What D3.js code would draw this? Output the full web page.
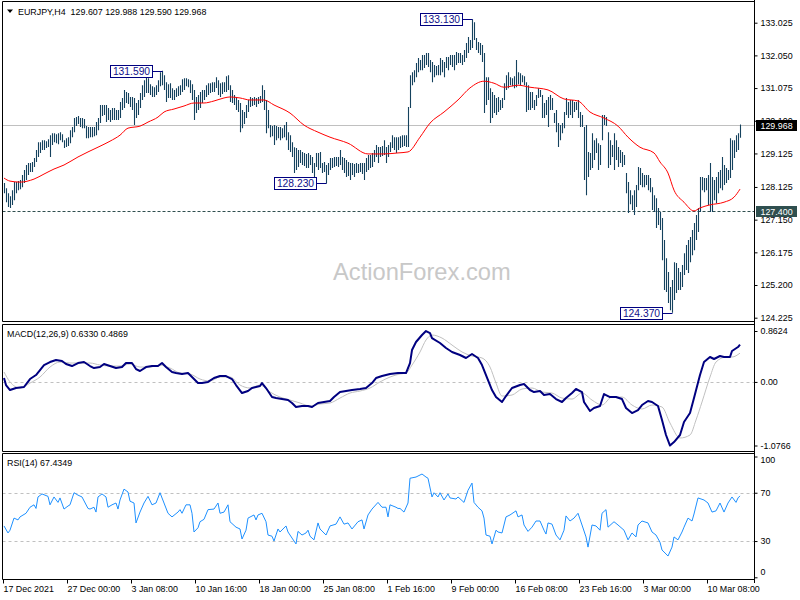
<!DOCTYPE html>
<html><head><meta charset="utf-8">
<script src="https://cdn.jsdelivr.net/npm/d3@7/dist/d3.min.js"></script>
<style>
html,body{margin:0;padding:0;background:#fff;}
svg text{font-family:"Liberation Sans",Arial,sans-serif;}
</style></head><body>
<svg id="chart" width="800" height="600"></svg>
<script>
// ---------- DATA ----------
const symbolTitle = "EURJPY,H4  129.607 129.988 129.590 129.968";
const highs = [
128.24,128.09,127.94,127.85,128.03,128.27,128.27,128.30,128.33,128.48,
128.63,128.78,128.84,128.84,128.87,128.99,129.23,129.46,129.46,129.52,
129.52,129.49,129.55,129.67,129.73,129.73,129.70,129.73,129.76,129.70,
129.52,129.58,129.61,129.82,129.91,130.18,130.21,130.24,130.18,130.18,
130.15,129.94,129.91,129.91,129.91,129.91,130.06,130.18,130.57,130.57,
130.57,130.57,130.48,130.42,130.48,130.48,130.42,130.42,130.66,130.78,
131.02,130.96,130.93,130.81,130.81,130.78,130.63,130.72,130.93,131.16,
131.31,131.52,131.37,131.19,131.13,131.10,131.16,131.31,131.55,131.59,
131.46,131.25,131.19,131.22,131.07,131.02,131.07,131.13,131.16,131.34,
131.37,131.37,131.34,131.31,131.19,131.02,130.81,130.87,130.96,131.02,
131.02,131.16,131.22,131.22,131.25,131.25,131.40,131.31,131.22,131.25,
131.25,131.43,131.46,131.16,131.02,130.87,130.81,130.72,130.63,130.42,
130.36,130.57,130.72,130.81,130.78,130.81,130.78,130.81,130.84,131.16,
131.02,130.72,130.42,129.97,129.94,129.97,129.94,129.91,129.91,129.88,
129.97,130.06,129.76,129.67,129.46,129.31,129.29,129.23,129.23,129.17,
129.14,129.11,129.14,129.08,129.02,128.84,129.14,129.14,129.17,128.84,
128.87,128.78,128.84,128.99,128.99,129.02,129.02,129.02,129.23,129.02,
128.99,128.93,128.87,128.84,128.84,128.81,128.84,128.81,128.84,128.84,
128.84,128.99,129.08,129.08,129.14,129.23,129.38,129.32,129.32,129.35,
129.52,129.32,129.38,129.46,129.67,129.61,129.61,129.61,129.64,129.67,
129.67,129.67,130.51,131.46,131.55,131.61,131.82,131.97,131.91,132.06,
132.06,132.12,132.12,131.91,131.85,131.76,131.73,131.76,131.97,131.91,
131.85,132.00,132.00,132.06,132.06,132.06,132.15,132.12,132.12,132.06,
132.21,132.42,132.60,132.51,133.13,133.04,132.57,132.45,132.42,132.36,
132.12,131.40,131.40,131.07,130.96,130.87,130.78,130.81,130.72,130.78,
131.22,131.46,131.55,131.40,131.37,131.43,131.91,131.55,131.52,131.46,
131.43,131.25,131.16,130.96,130.96,130.72,130.87,131.07,131.02,130.87,
130.63,130.72,130.81,130.87,130.78,130.33,130.42,130.03,129.97,130.03,
130.36,130.78,130.66,130.72,130.72,130.66,130.66,130.72,130.36,130.27,
129.91,129.97,129.17,129.14,129.73,129.52,129.58,129.43,129.38,130.27,
130.27,130.21,129.76,129.52,129.38,129.73,129.52,129.32,129.23,129.17,
129.08,128.54,128.27,128.03,127.88,128.03,128.18,128.72,128.69,128.54,
128.48,128.48,128.48,128.39,128.12,127.88,127.79,127.50,127.38,127.20,
126.54,126.00,125.59,125.14,125.35,125.88,125.86,125.71,125.59,125.80,
126.15,126.39,126.54,126.63,126.84,127.05,127.29,127.50,128.42,128.42,
128.39,128.39,128.48,128.84,128.42,128.33,128.42,128.57,128.63,129.02,
128.78,128.69,128.63,129.58,129.52,129.52,129.67,129.73,129.99];
const lows = [
127.94,127.67,127.53,127.50,127.59,127.73,127.94,128.03,128.06,128.12,
128.24,128.33,128.48,128.57,128.57,128.72,128.87,129.02,129.14,129.23,
129.23,129.29,129.32,129.02,129.38,129.46,129.43,129.40,129.52,129.46,
129.29,129.32,129.35,129.43,129.61,129.76,129.94,130.00,129.91,129.88,
129.88,129.58,129.58,129.61,129.61,129.64,129.67,129.82,130.03,130.24,
130.27,130.06,130.12,130.06,130.12,130.12,130.12,130.12,130.18,130.42,
130.48,130.63,130.60,130.51,130.42,129.97,130.18,130.27,130.48,130.72,
130.81,130.93,130.93,130.87,130.81,130.81,130.87,130.96,131.13,131.16,
131.02,130.66,130.78,130.78,130.72,130.72,130.81,130.84,130.87,130.96,
131.02,131.13,131.10,130.93,130.72,130.12,130.33,130.42,130.48,130.63,
130.72,130.81,130.87,130.93,130.96,130.96,131.08,130.87,130.81,130.90,
130.96,130.96,131.02,130.66,130.63,130.57,130.42,130.36,129.76,129.88,
130.00,130.18,130.36,130.51,130.54,130.57,130.51,130.60,130.63,130.66,
130.42,129.73,129.88,129.61,129.64,129.38,129.52,129.58,129.52,129.58,
129.61,129.52,129.23,129.17,129.02,128.54,128.63,128.72,128.84,128.78,
128.75,128.69,128.69,128.78,128.54,128.42,128.72,128.63,128.69,128.54,
128.57,128.23,128.48,128.63,128.69,128.72,128.75,128.72,128.78,128.63,
128.54,128.42,128.45,128.33,128.48,128.42,128.54,128.54,128.57,128.51,
128.33,128.57,128.63,128.69,128.72,128.87,129.02,128.84,129.02,129.05,
129.08,128.84,129.02,129.17,129.29,129.23,129.14,129.23,129.29,129.32,
129.35,129.32,129.32,130.48,131.16,131.25,131.40,131.55,131.61,131.61,
131.67,131.76,131.70,131.55,131.25,131.40,131.46,131.46,131.46,131.55,
131.40,131.67,131.61,131.76,131.70,131.61,131.76,131.82,131.82,131.76,
131.85,131.97,132.12,132.21,132.27,132.51,132.21,132.12,132.06,131.85,
130.33,130.57,130.72,130.03,130.18,130.33,130.27,130.36,130.42,130.48,
130.72,131.02,131.07,131.16,131.13,131.07,131.10,131.19,131.16,131.25,
131.16,130.36,130.42,130.42,130.48,130.42,130.54,130.78,130.81,130.18,
130.18,130.27,129.91,130.42,130.42,130.03,129.76,129.32,129.52,129.73,
129.88,130.27,130.18,130.27,130.18,130.36,130.42,130.18,129.91,129.91,
128.33,127.88,128.42,128.63,128.69,128.93,129.14,128.63,128.78,129.52,
129.97,129.94,128.69,128.78,129.02,128.63,128.93,128.72,128.84,128.72,
128.78,127.94,127.35,127.61,127.44,127.29,127.53,128.03,128.18,128.12,
128.12,128.18,128.03,127.97,127.44,127.38,126.90,126.99,126.84,125.94,
125.05,124.99,124.66,124.45,124.37,124.75,124.96,125.05,125.05,125.14,
125.50,125.65,125.56,125.88,126.09,126.24,126.54,126.78,127.38,128.03,
127.97,128.03,127.59,127.38,127.38,127.73,127.64,127.94,128.09,128.03,
128.18,128.24,128.33,128.39,128.63,128.99,129.17,129.23,129.59];

// moving average (red), read at selected bars
const maIdx = [0,3,8,15,20,25,30,37,42,48,53,58,62,68,72,77,80,85,90,95,100,105,110,113,118,123,130,135,143,150,157,163,172,182,190,197,202,208,213,220,227,233,240,245,250,257,263,272,280,287,293,300,307,312,318,325,328,332,335,340,345,348,353,360,365,368];
const maVal = [128.39,128.30,128.27,128.36,128.51,128.66,128.78,129.02,129.17,129.34,129.49,129.67,129.88,129.94,130.06,130.21,130.36,130.45,130.54,130.63,130.63,130.69,130.78,130.81,130.78,130.72,130.72,130.57,130.33,129.97,129.76,129.61,129.43,129.11,129.11,129.14,129.17,129.61,130.03,130.36,130.72,131.08,131.28,131.22,131.10,131.16,131.10,131.02,130.75,130.69,130.36,130.18,129.94,129.61,129.31,129.14,128.87,128.54,128.03,127.67,127.41,127.50,127.59,127.67,127.82,128.06];

// MACD main line
const macdIdx = [0,1,3,6,10,13,16,20,23,26,29,31,34,37,40,43,45,48,50,53,56,59,61,64,66,68,71,74,77,79,81,84,86,89,92,94,97,99,102,105,108,111,114,116,119,122,124,128,129,131,134,136,139,142,144,146,149,152,154,157,160,163,165,168,171,174,178,181,184,186,189,193,197,201,203,204,206,209,211,213,214,218,221,224,228,231,234,237,239,241,244,246,249,251,254,258,260,263,265,268,270,273,276,279,281,284,286,289,290,293,295,298,300,303,306,309,311,314,317,319,322,324,327,329,331,333,335,338,340,343,345,348,350,353,355,358,360,363,364,367,368];
const macdVal = [0.066,-0.053,-0.137,-0.103,-0.086,0.049,0.117,0.286,0.337,0.371,0.354,0.303,0.269,0.320,0.337,0.269,0.235,0.252,0.303,0.269,0.235,0.252,0.320,0.320,0.218,0.185,0.252,0.269,0.269,0.320,0.252,0.168,0.151,0.134,0.151,0.083,-0.019,-0.019,0.000,0.066,0.100,0.100,0.049,-0.053,-0.188,-0.154,-0.103,-0.069,-0.019,-0.103,-0.256,-0.273,-0.290,-0.307,-0.357,-0.425,-0.408,-0.408,-0.425,-0.357,-0.340,-0.323,-0.256,-0.171,-0.154,-0.137,-0.120,-0.103,-0.019,0.066,0.100,0.134,0.151,0.151,0.320,0.540,0.676,0.795,0.862,0.828,0.743,0.659,0.574,0.507,0.456,0.405,0.473,0.405,0.286,0.117,-0.137,-0.256,-0.340,-0.239,-0.103,-0.053,-0.036,-0.137,-0.171,-0.154,-0.222,-0.205,-0.290,-0.340,-0.273,-0.188,-0.120,-0.171,-0.340,-0.493,-0.442,-0.408,-0.205,-0.256,-0.256,-0.290,-0.442,-0.527,-0.476,-0.391,-0.323,-0.340,-0.408,-0.645,-0.899,-1.077,-1.018,-0.899,-0.679,-0.527,-0.273,0.117,0.337,0.422,0.388,0.439,0.422,0.422,0.523,0.591,0.633];
// MACD signal line
const sigIdx = [0,3,8,13,18,23,28,33,38,43,48,53,58,63,68,73,78,83,88,93,98,103,108,113,118,123,128,133,138,143,148,153,158,163,168,173,178,183,188,193,198,201,204,208,211,214,219,224,229,234,239,243,246,249,254,259,264,269,274,279,284,289,294,299,304,309,314,319,324,329,333,338,343,346,349,353,356,361,364,368];
const sigVal = [0.168,0.000,-0.103,-0.019,0.083,0.252,0.337,0.320,0.320,0.320,0.286,0.269,0.269,0.303,0.252,0.252,0.286,0.235,0.151,0.134,0.049,0.015,0.083,0.083,-0.053,-0.103,-0.053,-0.171,-0.256,-0.307,-0.357,-0.408,-0.374,-0.357,-0.273,-0.188,-0.154,-0.103,0.000,0.083,0.134,0.151,0.286,0.507,0.710,0.794,0.743,0.625,0.507,0.439,0.405,0.252,-0.019,-0.239,-0.222,-0.120,-0.103,-0.171,-0.188,-0.273,-0.290,-0.188,-0.307,-0.391,-0.256,-0.256,-0.391,-0.459,-0.391,-0.425,-0.696,-0.950,-0.899,-0.645,-0.340,0.083,0.337,0.422,0.422,0.487];

// RSI(14)
const rsiIdx = [0,2,3,5,7,8,11,13,15,16,17,19,22,23,25,27,28,30,32,33,35,37,39,42,43,45,46,47,49,51,52,54,56,57,58,60,62,63,65,66,68,70,72,74,76,78,80,82,84,87,88,89,91,93,94,95,97,98,100,102,105,107,108,110,112,113,116,118,119,121,122,125,126,127,129,131,132,134,135,137,138,141,142,144,146,147,149,151,152,153,155,157,158,161,163,166,168,170,172,174,177,179,180,182,184,187,189,191,192,193,196,197,198,200,202,203,206,209,211,212,214,215,217,218,220,222,223,226,227,230,232,234,235,237,239,240,241,243,244,246,247,249,251,253,256,257,259,260,262,264,266,268,270,271,272,274,276,278,280,281,283,285,287,289,291,292,294,296,298,299,301,302,305,307,310,312,314,316,317,319,322,324,326,328,329,331,332,334,335,337,339,340,342,344,345,347,350,352,354,356,358,360,362,364,366,367,368];
const rsiVal = [42.5,36.7,39,49,47.5,50,53,58,60,57,66.5,69,67,60,66.5,62,65.7,56.5,59,60,70,68,66.5,57,56.5,58,54,66.5,69,66.5,58,60,61.5,56.5,64,73,70.6,63,61.5,45,54,61.5,67,60,61.5,70,61.5,53,50,54,56,53,60,60,53,37.5,41,46,48,56,56.5,61.5,53,54,60,46,41.5,40,31.7,39,49,51.6,47.5,51.6,53,46,35,34,30,40,37.5,42.5,37.5,32.5,27.6,38,35,36.7,39,34,31,45,40,35,42.5,44,50,44,45,40,46,47.5,40,51.6,56.5,62,58,58,50,60,58,57,57,54,61.5,82,83,85.5,83,82,66.5,70,66.5,70,64,69,65.7,64.8,66.5,62,72,78,62,58,55,49,35,34,27.6,39,37.5,36.7,50,51.6,55,50,51.6,43.3,38,41.5,46.6,46.6,39,35.8,45,44,35,31,39,50.8,46.6,49,53,43.3,33.4,25,43.3,42.5,39,53,56,41.5,46,43.3,39,31,36.7,33.4,43.3,46.6,45,37.5,35,29,22.6,19.3,17.6,25,33.4,31,37.5,41.5,49,46.6,52.4,65.7,64,61.5,54,55,61.5,54,61.5,66.5,62,65.7,67.4];

const priceTicks = [133.025,132.050,131.075,130.100,129.125,128.125,127.150,126.175,125.200,124.225];
const lastPrice = 129.968;
const supportLevel = 127.400;
const macdTicks = [0.8624,0,-1.0766];
const macdTickLabels = ["0.8624","0.00","-1.0766"];
const rsiTicks = [100,70,30,0];
const rsiLevels = [70,30];
const dateIdx = [0,32,64,96,128,160,192,224,256,288,320,352];
const dateLabels = ["17 Dec 2021","27 Dec 00:00","3 Jan 08:00","10 Jan 16:00","18 Jan 00:00","25 Jan 08:00","1 Feb 16:00","9 Feb 00:00","16 Feb 08:00","23 Feb 16:00","3 Mar 00:00","10 Mar 08:00"];
const swingIdx = [79,234,161,334];
const swingVal = [131.590,133.130,128.230,124.370];
const macdTitle = "MACD(12,26,9) 0.6330 0.4869";
const rsiTitle = "RSI(14) 67.4349";
const watermark = "ActionForex.com";

// ---------- LAYOUT ----------
const L = 2.5, R = 754.5;
const P = {main:[1.5,321.5], macd:[324.5,451.5], rsi:[453.5,579.5]};
const FS = 8.9;

const svg = d3.select('#chart');
const x = d3.scaleLinear().domain([0,368]).range([4,740]);
const y = d3.scaleLinear().domain([124.225,133.025]).range([317.7,22.7]);
const ym = d3.scaleLinear().domain([-1.0766,0.8624]).range([445.5,331]);
const yr = d3.scaleLinear().domain([0,100]).range([577.3,456.5]);
const px = i => Math.round(x(i)) + 0.5;

// clip paths
const defs = svg.append('defs');
Object.entries(P).forEach(([k,[t,b]])=>{
  defs.append('clipPath').attr('id','clip-'+k).append('rect')
    .attr('x',L).attr('y',t).attr('width',R-L).attr('height',b-t);
});

// watermark
svg.append('text').attr('x',333).attr('y',280).attr('font-size',23.7)
  .attr('fill','#c8c8c8').text(watermark);

// ---------- MAIN PANEL ----------
const gMain = svg.append('g').attr('clip-path','url(#clip-main)');
gMain.append('line').attr('x1',L).attr('x2',R)
  .attr('y1',Math.round(y(lastPrice))+0.5).attr('y2',Math.round(y(lastPrice))+0.5)
  .attr('stroke','#c0c0c0');
gMain.append('line').attr('x1',L).attr('x2',R)
  .attr('y1',Math.round(y(supportLevel))+0.5).attr('y2',Math.round(y(supportLevel))+0.5)
  .attr('stroke','#2f4f4f').attr('stroke-dasharray','3,2');

gMain.selectAll('line.bar').data(highs).join('line').attr('class','bar')
  .attr('x1',(d,i)=>px(i)).attr('x2',(d,i)=>px(i))
  .attr('y1',d=>y(d)).attr('y2',(d,i)=>y(lows[i]))
  .attr('stroke','#15425e').attr('stroke-width',1.1);

const maData = maIdx.map((d,i)=>[d,maVal[i]]);
gMain.append('path').datum(maData)
  .attr('d',d3.line().x(d=>x(d[0])).y(d=>y(d[1])).curve(d3.curveMonotoneX))
  .attr('fill','none').attr('stroke','#ff0000').attr('stroke-width',1);

// swing annotations
swingIdx.forEach((bi,k)=>{
  const v = swingVal[k], yy = Math.round(y(v))+0.5, bx = px(bi);
  const bw = 42, right = bx - 10;
  svg.append('line').attr('x1',right).attr('x2',bx).attr('y1',yy).attr('y2',yy)
    .attr('stroke','#000080');
  svg.append('rect').attr('x',right-bw).attr('y',yy-6).attr('width',bw).attr('height',12)
    .attr('fill','#fff').attr('stroke','#000080');
  svg.append('text').attr('x',right-bw/2).attr('y',yy).attr('dy','0.36em')
    .attr('text-anchor','middle').attr('font-size',10.3).attr('fill','#10108a')
    .text(v.toFixed(3));
});

// ---------- MACD PANEL ----------
const gMacd = svg.append('g').attr('clip-path','url(#clip-macd)');
gMacd.append('line').attr('x1',L).attr('x2',R)
  .attr('y1',Math.round(ym(0))+0.5).attr('y2',Math.round(ym(0))+0.5)
  .attr('stroke','#c0c0c0').attr('stroke-dasharray','3,3');
gMacd.append('path').datum(sigIdx.map((d,i)=>[d,sigVal[i]]))
  .attr('d',d3.line().x(d=>x(d[0])).y(d=>ym(d[1])).curve(d3.curveMonotoneX))
  .attr('fill','none').attr('stroke','#c0c0c0').attr('stroke-width',1);
gMacd.append('path').datum(macdIdx.map((d,i)=>[d,macdVal[i]]))
  .attr('d',d3.line().x(d=>x(d[0])).y(d=>ym(d[1])))
  .attr('fill','none').attr('stroke','#000080').attr('stroke-width',2)
  .attr('stroke-linejoin','round');
svg.append('text').attr('x',7).attr('y',337).attr('font-size',FS).attr('fill','#000').text(macdTitle);

// ---------- RSI PANEL ----------
const gRsi = svg.append('g').attr('clip-path','url(#clip-rsi)');
rsiLevels.forEach(v=>{
  gRsi.append('line').attr('x1',L).attr('x2',R)
    .attr('y1',Math.round(yr(v))+0.5).attr('y2',Math.round(yr(v))+0.5)
    .attr('stroke','#c0c0c0').attr('stroke-dasharray','3,3');
});
gRsi.append('path').datum(rsiIdx.map((d,i)=>[d,rsiVal[i]]))
  .attr('d',d3.line().x(d=>x(d[0])).y(d=>yr(d[1])))
  .attr('fill','none').attr('stroke','#1e90ff').attr('stroke-width',1);
svg.append('text').attr('x',7).attr('y',466).attr('font-size',FS).attr('fill','#000').text(rsiTitle);

// ---------- FRAMES ----------
const fr = svg.append('g').attr('stroke','#000').attr('fill','none');
Object.values(P).forEach(([t,b])=>{
  fr.append('line').attr('x1',L).attr('x2',R).attr('y1',t).attr('y2',t);
  fr.append('line').attr('x1',L).attr('x2',R).attr('y1',b).attr('y2',b);
  fr.append('line').attr('x1',L).attr('x2',L).attr('y1',t).attr('y2',b);
});
fr.append('line').attr('x1',R).attr('x2',R).attr('y1',0).attr('y2',583);

// ---------- AXES ----------
function styleAxis(g){
  g.select('.domain').remove();
  g.selectAll('.tick line').attr('stroke','#000');
  g.selectAll('.tick text').attr('fill','#000').attr('font-size',FS)
    .attr('font-family','"Liberation Sans",Arial,sans-serif');
}
svg.append('g').attr('transform',`translate(${R},0)`)
  .call(d3.axisRight(y).tickValues(priceTicks).tickSize(3).tickPadding(3).tickFormat(d=>d.toFixed(3)))
  .call(styleAxis);
svg.append('g').attr('transform',`translate(${R},0)`)
  .call(d3.axisRight(ym).tickValues(macdTicks).tickSize(3).tickPadding(3).tickFormat((d,i)=>macdTickLabels[i]))
  .call(styleAxis);
const ra = svg.append('g').attr('transform',`translate(${R},0)`)
  .call(d3.axisRight(yr).tickValues(rsiTicks).tickSize(3).tickPadding(3).tickFormat(d3.format('d')))
  .call(styleAxis);
ra.selectAll('.tick text').attr('y',d=>Math.max(P.rsi[0]+6.5-yr(d),Math.min(P.rsi[1]-7.5-yr(d),0)));

// price boxes on axis
[[lastPrice,'#000000'],[supportLevel,'#2f4f4f']].forEach(([v,c])=>{
  const yy = Math.round(y(v))+0.5;
  svg.append('rect').attr('x',R+1.5).attr('y',yy-5.5).attr('width',41).attr('height',11).attr('fill',c);
  svg.append('text').attr('x',R+6).attr('y',yy).attr('dy','0.34em').attr('font-size',FS)
    .attr('fill','#fff').text(v.toFixed(3));
});

// time axis
const tg = svg.append('g');
dateIdx.forEach((bi,k)=>{
  const tx = Math.round(x(bi))-0.5;
  tg.append('line').attr('x1',tx).attr('x2',tx).attr('y1',P.rsi[1]).attr('y2',P.rsi[1]+4).attr('stroke','#000');
  tg.append('text').attr('x',tx).attr('y',592).attr('font-size',FS).attr('fill','#000').text(dateLabels[k]);
});

// title
svg.append('path').attr('d','M7,9.5 L13,9.5 L10,13 Z').attr('fill','#000');
svg.append('text').attr('x',18).attr('y',15).attr('font-size',FS).attr('fill','#000')
  .style('white-space','pre').text(symbolTitle);
</script></body></html>
